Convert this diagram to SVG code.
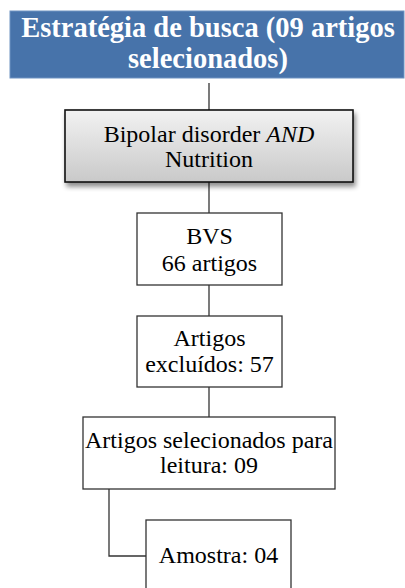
<svg xmlns="http://www.w3.org/2000/svg" width="405" height="588" viewBox="0 0 405 588">
<style>
.t{font-family:"Liberation Serif","Times New Roman",serif;font-size:24px;fill:#000;text-anchor:middle}
.title{font-family:"Liberation Serif","Times New Roman",serif;font-size:28.5px;font-weight:bold;fill:#fff;text-anchor:middle}
.box{fill:#fff;stroke:#333;stroke-width:1.3}
.con{fill:none;stroke:#333;stroke-width:1.3}
</style>
<defs>
<linearGradient id="g" x1="0" y1="0" x2="0" y2="1">
<stop offset="0" stop-color="#f2f2f2"/>
<stop offset="1" stop-color="#c9c9c9"/>
</linearGradient>
<filter id="sh" x="-10%" y="-20%" width="130%" height="150%">
<feGaussianBlur in="SourceAlpha" stdDeviation="2.5"/>
<feOffset dx="2" dy="4" result="b"/>
<feComponentTransfer><feFuncA type="linear" slope="0.45"/></feComponentTransfer>
<feMerge><feMergeNode/><feMergeNode in="SourceGraphic"/></feMerge>
</filter>
</defs>
<g id="connectors">
<line class="con" x1="209" y1="83" x2="209" y2="110"/>
<line class="con" x1="209" y1="182" x2="209" y2="213"/>
<line class="con" x1="209" y1="285" x2="209" y2="316"/>
<line class="con" x1="209" y1="387" x2="209" y2="417"/>
<polyline class="con" points="109,489 109,556 146,556"/>
</g>
<g id="title">
<rect x="10" y="11" width="394" height="67" fill="#4773aa" stroke="#6f93c2" stroke-width="1"/>
<text class="title" x="208" y="37">Estratégia de busca (09 artigos</text>
<text class="title" x="208" y="68">selecionados)</text>
</g>
<g id="query">
<rect x="65" y="110" width="288" height="72" fill="url(#g)" stroke="#111" stroke-width="1.6" filter="url(#sh)"/>
<text class="t" x="209" y="142">Bipolar disorder <tspan font-style="italic">AND</tspan></text>
<text class="t" x="209" y="167">Nutrition</text>
</g>
<g id="bvs">
<rect class="box" x="137" y="213" width="145" height="72"/>
<text class="t" x="209.5" y="244">BVS</text>
<text class="t" x="209.5" y="271">66 artigos</text>
</g>
<g id="excluidos">
<rect class="box" x="137" y="316" width="145" height="71"/>
<text class="t" x="209.5" y="346">Artigos</text>
<text class="t" x="209.5" y="372">excluídos: 57</text>
</g>
<g id="selecionados">
<rect class="box" x="83" y="417" width="252" height="72"/>
<text class="t" x="209" y="448">Artigos selecionados para</text>
<text class="t" x="209" y="473">leitura: 09</text>
</g>
<g id="amostra">
<rect class="box" x="146" y="520" width="145" height="80"/>
<text class="t" x="218.5" y="563">Amostra: 04</text>
</g>
</svg>
